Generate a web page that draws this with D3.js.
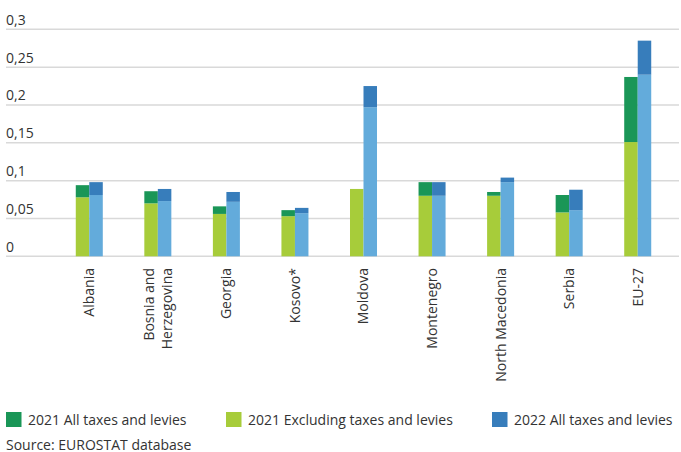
<!DOCTYPE html>
<html>
<head>
<meta charset="utf-8">
<script src="https://cdn.jsdelivr.net/npm/d3@7/dist/d3.min.js"></script>
<style>
  html, body { margin: 0; padding: 0; background: #fff; }
  svg { display: block; font-family: "Open Sans", "Noto Sans", sans-serif; }
</style>
</head>
<body>
<svg id="chart" width="681" height="452"></svg>
<script>
const categories = ["Albania", "Bosnia and Herzegovina", "Georgia", "Kosovo*", "Moldova", "Montenegro", "North Macedonia", "Serbia", "EU-27"];
const categoryLines = [["Albania"], ["Bosnia and", "Herzegovina"], ["Georgia"], ["Kosovo*"], ["Moldova"], ["Montenegro"], ["North Macedonia"], ["Serbia"], ["EU-27"]];
const excl2021 = [0.078, 0.070, 0.056, 0.053, 0.089, 0.080, 0.080, 0.058, 0.151];
const all2021  = [0.094, 0.086, 0.066, 0.061, 0.089, 0.098, 0.085, 0.081, 0.237];
const excl2022 = [0.081, 0.073, 0.072, 0.057, 0.197, 0.080, 0.098, 0.061, 0.240];
const all2022  = [0.098, 0.089, 0.085, 0.064, 0.225, 0.098, 0.104, 0.088, 0.285];
const yTicks = [0, 0.05, 0.1, 0.15, 0.2, 0.25, 0.3];
const yTickLabels = ["0", "0,05", "0,1", "0,15", "0,2", "0,25", "0,3"];
const years = ["2021", "2022"];
const legendLabels = ["2021 All taxes and levies", "2021 Excluding taxes and levies", "2022 All taxes and levies"];
const sourceText = "Source: EUROSTAT database";

const colors = {
  all2021: "#1a9657",
  excl2021: "#a7cc3a",
  all2022: "#377dbb",
  excl2022: "#63abdb"
};

const svg = d3.select("#chart");
const textColor = "#333333";

const y = d3.scaleLinear().domain([0, 0.3]).range([256.3, 29.3]);
const x = d3.scaleBand().domain(categories).range([55, 672]).paddingInner(0.606).paddingOuter(0.303);
const xi = d3.scaleBand().domain(years).range([0, x.bandwidth()]);

// gridlines
svg.append("g").selectAll("line").data(yTicks).join("line")
  .attr("x1", 6).attr("x2", 679)
  .attr("y1", d => y(d)).attr("y2", d => y(d))
  .attr("stroke", "#d9d9d9").attr("stroke-width", 1.5);

// y labels above gridlines
svg.append("g").selectAll("text").data(yTicks).join("text")
  .attr("x", 6).attr("y", d => y(d) - 4.5)
  .attr("font-size", 14).attr("fill", textColor)
  .text((d, i) => yTickLabels[i]);

// bars
const rows = categories.map((c, i) => ({c, e21: excl2021[i], a21: all2021[i], e22: excl2022[i], a22: all2022[i]}));
const g = svg.append("g");
const groups = g.selectAll("g").data(rows).join("g")
  .attr("transform", d => `translate(${x(d.c)},0)`);

function seg(key, lo, hi, color) {
  groups.append("rect")
    .attr("x", xi(key)).attr("width", xi.bandwidth())
    .attr("y", d => y(hi(d))).attr("height", d => Math.max(0, y(lo(d)) - y(hi(d))))
    .attr("fill", color);
}
seg("2021", d => 0, d => d.e21, colors.excl2021);
seg("2021", d => d.e21, d => d.a21, colors.all2021);
seg("2022", d => 0, d => d.e22, colors.excl2022);
seg("2022", d => d.e22, d => d.a22, colors.all2022);

// x labels rotated
const lab = svg.append("g").selectAll("text").data(categories).join("text")
  .attr("font-size", 14).attr("fill", textColor)
  .attr("text-anchor", "end")
  .attr("transform", d => {
    const cx = x(d) + x.bandwidth() / 2;
    return `translate(${cx},268) rotate(-90)`;
  });
lab.each(function(d, i) {
  const lines = categoryLines[i];
  const n = lines.length;
  const lh = 18;
  d3.select(this).selectAll("tspan").data(lines).join("tspan")
    .attr("x", 0)
    .attr("y", (l, j) => (j - (n - 1) / 2) * lh)
    .attr("dy", "0.35em")
    .text(l => l);
});

// legend
const legendItems = [
  {label: legendLabels[0], color: colors.all2021, x: 6},
  {label: legendLabels[1], color: colors.excl2021, x: 226},
  {label: legendLabels[2], color: colors.all2022, x: 492}
];
const lg = svg.append("g").selectAll("g").data(legendItems).join("g")
  .attr("transform", d => `translate(${d.x},412)`);
lg.append("rect").attr("width", 15.5).attr("height", 15).attr("fill", d => d.color);
lg.append("text").attr("x", 22).attr("y", 13).attr("font-size", 14).attr("fill", textColor).text(d => d.label);

svg.append("text").attr("x", 6).attr("y", 449.5).attr("font-size", 14).attr("fill", textColor).text(sourceText);
</script>
</body>
</html>
